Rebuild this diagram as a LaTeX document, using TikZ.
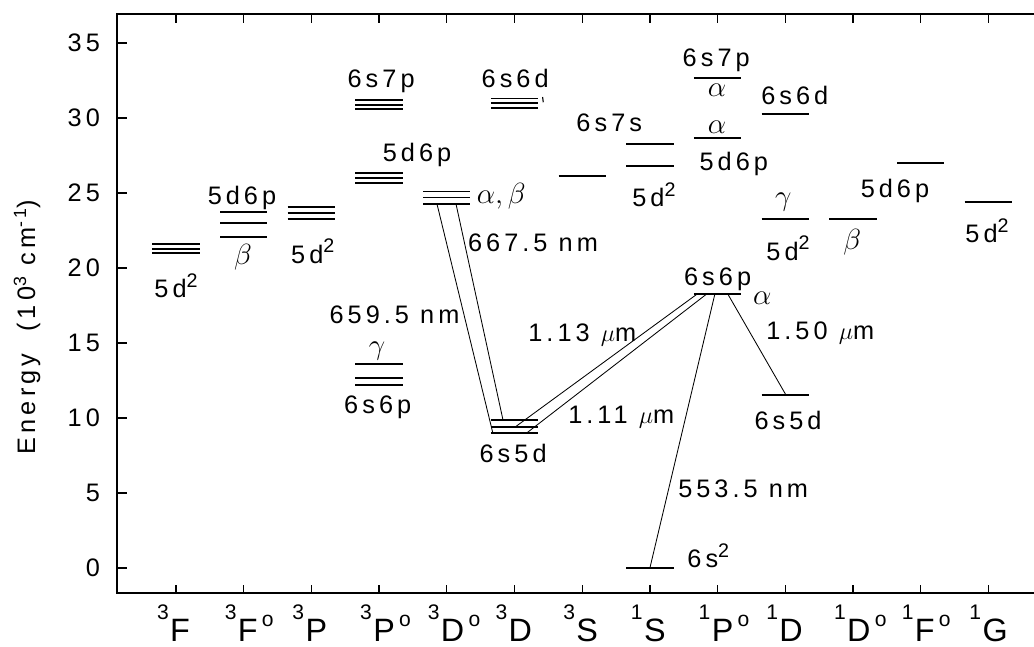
\documentclass[tikz,border=0pt]{standalone}
\usepackage{fontspec}
\setmainfont{Liberation Sans}[LetterSpace=16]
\usetikzlibrary{calc}
\newcommand{\odeg}{\raisebox{0.48em}{\fontsize{15}{17}\selectfont\kern3pt o}}
\newcommand{\mult}[1]{\llap{\raisebox{0.7em}{\fontsize{15}{17}\selectfont #1}\kern1pt}}
\newcommand{\sq}{\raisebox{0.42em}{\fontsize{14}{16}\selectfont 2}}

\begin{document}
\begin{tikzpicture}[x=1.6925cm, y=0.375cm,
    lvl/.style={line width=1pt},
    trans/.style={line width=0.6pt},
    lab/.style={font=\fontsize{18}{20}\selectfont, inner sep=0pt},
    grk/.style={font=\fontsize{22}{24}\selectfont, inner sep=0pt}]
  \useasboundingbox (-2.5997,-5.2667) rectangle (12.6736,37.8667);
  \draw[line width=1.1pt] (12.6736,36.93) -- (-0.871,36.93) -- (-0.871,-1.65) -- (12.6736,-1.65);
  \foreach \c in {0,...,12}{
    \draw[line width=0.9pt] (\c,-1.65) -- ++(0,0.5);
    \draw[line width=0.9pt] (\c,36.93) -- ++(0,-0.6);
  }
  \foreach \e in {0,5,...,35}{
    \draw[line width=0.9pt] (-0.871,\e) -- ++(0.148,0);
    \node[lab] [anchor=east] (y\e) at (-1.12,\e) {\e};
  }
  \node[lab, rotate=90] (ylab) at (-2.2,16.07) {Energy~ (10\textsuperscript{3} cm\textsuperscript{-1})};
  \foreach \cc/\ms/\lt/\dg [count=\k] in {0/3/F/\relax, 1/3/F/\odeg, 2/3/P/\relax, 3/3/P/\odeg,
      4/3/D/\odeg, 5/3/D/\relax, 6/3/S/\relax, 7/1/S/\relax, 8/1/P/\odeg, 9/1/D/\relax,
      10/1/D/\odeg, 11/1/F/\odeg, 12/1/G/\relax}
    \node[anchor=base west, inner sep=0pt, font=\fontsize{23}{26}\selectfont] (term\k) at (\cc-0.09,-4.93) {\mult{\ms}\lt\dg};

  \foreach \c/\e in {0/21.6,0/21.27,0/21.0, 1/23.73,1/23.0,1/22.07, 2/24.07,2/23.67,2/23.27,
      3/31.2,3/30.87,3/30.6, 3/26.33,3/26.0,3/25.67, 3/13.6,3/12.67,3/12.2,
      4/25.1,4/24.7,4/24.27, 5/31.3,5/31.0,5/30.67, 5/9.87,5/9.4,5/9.0,
      6/26.13, 7/28.27,7/26.8,7/0, 8/32.67,8/28.67,8/18.27,
      9/30.27,9/23.27,9/11.53, 10/23.27, 11/27.0, 12/24.4}
    \draw[lvl] (\c-0.35,\e) -- (\c+0.35,\e);
  \draw[line width=0.8pt] (5.415,31.4) -- (5.425,31.05);

  \node[lab, anchor=base] (c3F) at (0,18.0) {5d\sq};
  \node[lab, anchor=base] (a3Fo) at (0.975,24.2) {5d6p};
  \node[grk] (b3Fo) at (0.99,20.73) {$\beta$};
  \node[lab, anchor=base] (c3P) at (2.02,20.33) {5d\sq};
  \node[lab, anchor=base] (a3Po) at (3.03,32.0) {6s7p};
  \node[lab, anchor=base] (b3Po) at (3.56,27.07) {5d6p};
  \node[grk] (g3Po) at (2.97,14.47) {$\gamma$};
  \node[lab, anchor=base] (c3Po) at (2.98,10.33) {6s6p};
  \node[grk, anchor=base west] (ab3Do) at (4.44,24.33) {$\alpha,\beta$};
  \node[lab, anchor=base] (a3D) at (5.01,32.0) {6s6d};
  \node[lab, anchor=base] (b3D) at (4.98,7.0) {6s5d};
  \node[lab, anchor=base] (a3S) at (6.40,29.07) {6s7s};
  \node[lab, anchor=base] (a1S) at (7.06,24.07) {5d\sq};
  \node[lab, anchor=base west] (b1S) at (7.55,0) {6s\sq};
  \node[lab, anchor=base] (a1Po) at (7.98,33.4) {6s7p};
  \node[grk] (al1Po) at (7.99,31.87) {$\alpha$};
  \node[grk] (am1Po) at (7.99,29.4) {$\alpha$};
  \node[lab, anchor=base] (b1Po) at (8.24,26.53) {5d6p};
  \node[lab, anchor=base] (c1Po) at (8.0,18.8) {6s6p};
  \node[grk] (an1Po) at (8.66,18.0) {$\alpha$};
  \node[lab, anchor=base] (a1D) at (9.14,30.87) {6s6d};
  \node[grk] (g1D) at (8.97,24.4) {$\gamma$};
  \node[lab, anchor=base] (b1D) at (9.04,20.53) {5d\sq};
  \node[lab, anchor=base] (c1D) at (9.04,9.2) {6s5d};
  \node[grk] (b1Do) at (9.99,21.73) {$\beta$};
  \node[lab, anchor=base] (a1Do) at (10.62,24.67) {5d6p};
  \node[lab, anchor=base] (a1G) at (11.98,21.67) {5d\sq};

  \coordinate (s659) at (3.855,24.27);
  \coordinate (e659) at (4.68,9.0);
  \coordinate (s667) at (4.136,24.27);
  \coordinate (e667) at (4.83,9.87);
  \coordinate (s113) at (5.01,9.4);
  \coordinate (e113) at (7.70,18.27);
  \coordinate (s111) at (5.18,9.0);
  \coordinate (e111) at (7.84,18.27);
  \coordinate (s553) at (7.0,0);
  \coordinate (e553) at (7.96,18.27);
  \coordinate (s150) at (8.15,18.27);
  \coordinate (e150) at (9.01,11.53);
  \draw[trans] (s659) -- (e659);
  \draw[trans] (s667) -- (e667);
  \draw[trans] (s113) -- (e113);
  \draw[trans] (s111) -- (e111);
  \draw[trans] (s553) -- (e553);
  \draw[trans] (s150) -- (e150);
  \node[lab, anchor=base east] (w659) at (4.19,16.33) {659.5 nm};
  \node[lab, anchor=base west] (w667) at (4.31,21.13) {667.5 nm};
  \node[lab, anchor=base west] (w113) at (5.2,15.07) {1.13 $\mu$m};
  \node[lab, anchor=base west] (w111) at (5.79,9.6) {1.11 $\mu$m};
  \node[lab, anchor=base west] (w553) at (7.415,4.73) {553.5 nm};
  \node[lab, anchor=base west] (w150) at (8.715,15.2) {1.50 $\mu$m};
\end{tikzpicture}
\end{document}
